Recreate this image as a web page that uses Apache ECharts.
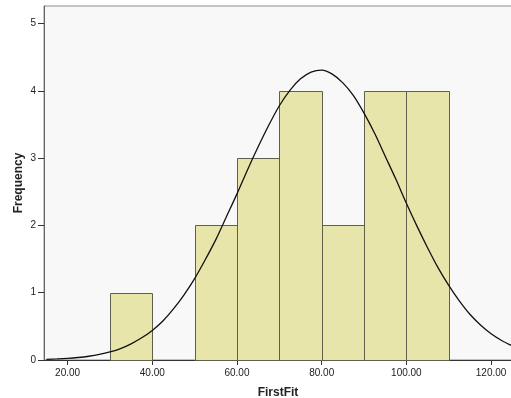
<!DOCTYPE html>
<html>
<head>
<meta charset="utf-8">
<script src="https://cdn.jsdelivr.net/npm/echarts@6/dist/echarts.min.js"></script>
<style>html,body{margin:0;padding:0;background:#fff;}#c{width:511px;height:398px;}</style>
</head>
<body>
<div id="c"></div>
<script>
// Histogram bins (lower edge, upper edge) and frequencies
const binStarts = [30, 50, 60, 70, 80, 90, 100];
const binEnds   = [40, 60, 70, 80, 90, 100, 110];
const counts    = [1, 2, 3, 4, 2, 4, 4];
// Normal curve
const curveX = [15,17.5,20,22.5,25,27.5,30,32.5,35,37.5,40,42.5,45,47.5,50,52.5,55,57.5,60,62.5,65,67.5,70,72.5,75,77.5,80,82.5,85,87.5,90,92.5,95,97.5,100,102.5,105,107.5,110,112.5,115,117.5,120,122.5,125];
const curveY = [0.010,0.016,0.024,0.037,0.056,0.083,0.12,0.17,0.24,0.33,0.44,0.58,0.76,0.97,1.21,1.49,1.79,2.13,2.47,2.83,3.17,3.49,3.78,4.01,4.18,4.28,4.31,4.25,4.12,3.93,3.67,3.37,3.03,2.69,2.33,1.99,1.67,1.37,1.11,0.88,0.68,0.52,0.39,0.29,0.21];
const xTicks = [20, 40, 60, 80, 100, 120];
const yTicks = [0, 1, 2, 3, 4, 5];

const chart = echarts.init(document.getElementById('c'), null, {renderer: 'canvas'});
const font = 'Arial, "Liberation Sans", sans-serif';
chart.setOption({
  animation: false,
  grid: {left: 44, top: 6, right: -1, bottom: 38, containLabel: false, outerBoundsMode: 'none',
         show: true, backgroundColor: '#f8f8f8', borderColor: '#8a8a8a', borderWidth: 1},
  xAxis: {
    type: 'value', min: 14.43, max: 124.94,
    name: 'FirstFit', nameLocation: 'middle', nameGap: 27, nameMoveOverlap: false,
    nameTextStyle: {fontFamily: font, fontWeight: 'bold', fontSize: 12, color: '#222'},
    axisLine: {lineStyle: {color: '#333', width: 1}},
    axisTick: {show: true, length: 5, lineStyle: {color: '#333'}, customValues: xTicks},
    axisLabel: {customValues: xTicks, formatter: v => v.toFixed(2), fontFamily: font, fontSize: 10, color: '#222', margin: 8},
    splitLine: {show: false}
  },
  yAxis: {
    type: 'value', min: 0, max: 5.263, interval: 1,
    name: 'Frequency', nameLocation: 'middle', nameGap: 19, nameMoveOverlap: false,
    nameTextStyle: {fontFamily: font, fontWeight: 'bold', fontSize: 12, color: '#222'},
    axisLine: {show: true, lineStyle: {color: '#666', width: 1}},
    axisTick: {show: true, length: 6, lineStyle: {color: '#333'}, customValues: yTicks},
    axisLabel: {customValues: yTicks, fontFamily: font, fontSize: 10, color: '#222', margin: 8},
    splitLine: {show: false}
  },
  series: [
    {
      type: 'custom',
      data: binStarts.map((s, i) => [s, binEnds[i], counts[i]]),
      renderItem: function (params, api) {
        const p0 = api.coord([api.value(0), 0]);
        const p1 = api.coord([api.value(1), api.value(2)]);
        return {
          type: 'rect',
          shape: {x: Math.round(p0[0]) + 0.5, y: Math.round(p1[1]) + 0.5, width: Math.round(p1[0]) - Math.round(p0[0]), height: Math.round(p0[1]) - Math.round(p1[1])},
          style: {fill: '#e8e5aa', stroke: '#5f5f4c', lineWidth: 1}
        };
      },
      z: 2
    },
    {
      type: 'line',
      data: curveX.map((x, i) => [x, curveY[i]]),
      smooth: 0.3,
      symbol: 'none',
      lineStyle: {color: '#111', width: 1.3},
      z: 3
    }
  ]
});
</script>
</body>
</html>
